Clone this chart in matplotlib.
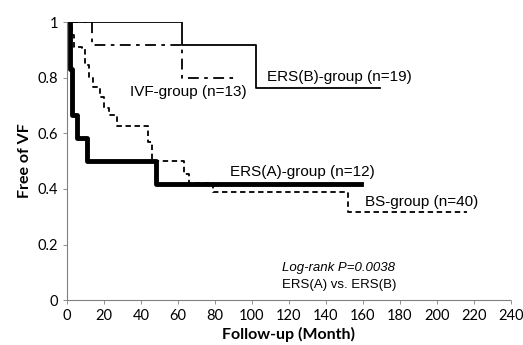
import matplotlib.pyplot as plt
from matplotlib.ticker import FuncFormatter

# step curves: event times (months) and survival after each time, last point = end of follow-up
ersb_t = [0, 62, 102, 169]
ersb_s = [1.0, 0.917, 0.763, 0.763]

ivf_t = [0, 13.5, 62, 91]
ivf_s = [1.0, 0.917, 0.80, 0.80]

ersa_t = [0, 1.5, 3, 5.5, 11, 48, 159]
ersa_s = [1.0, 0.833, 0.667, 0.583, 0.50, 0.417, 0.417]

bs_t = [0, 2.5, 4, 8, 10, 12, 14, 18, 20, 23, 27, 44, 46, 63, 66, 79, 152, 216]
bs_s = [1.0, 0.953, 0.91, 0.906, 0.845, 0.80, 0.766, 0.73, 0.69, 0.665, 0.625, 0.57, 0.50, 0.455, 0.42, 0.39, 0.317, 0.317]

labels = ["ERS(B)-group (n=19)", "IVF-group (n=13)", "ERS(A)-group (n=12)", "BS-group (n=40)"]
label_xy = [(108, 0.804), (34, 0.748), (88, 0.46), (161, 0.352)]

fig = plt.figure(figsize=(5.23, 3.45), dpi=100)
ax = fig.add_axes([0.128, 0.13, 0.849, 0.806])

ax.step(ersb_t, ersb_s, where="post", color="black", lw=1.3)
ax.step(ivf_t, ivf_s, where="post", color="black", lw=1.3, linestyle=(0, (6, 3, 2, 3)))
ax.step(bs_t, bs_s, where="post", color="black", lw=1.3, linestyle=(0, (3, 2)))
ax.step(ersa_t, ersa_s, where="post", color="black", lw=3.5)

for txt, (x, y) in zip(labels, label_xy):
    ax.text(x, y, txt, fontsize=11, family="Liberation Sans", va="center")

ax.text(147, 0.115, "Log-rank P=0.0038", fontsize=9.5, family="Liberation Sans",
        style="italic", ha="center", va="center")
ax.text(147, 0.055, "ERS(A) vs. ERS(B)", fontsize=9.5, family="Liberation Sans",
        ha="center", va="center")

ax.set_xlim(0, 240)
ax.set_ylim(0, 1.0)
ax.set_xticks(range(0, 241, 20))
ax.set_yticks([0, 0.2, 0.4, 0.6, 0.8, 1.0])
ax.yaxis.set_major_formatter(FuncFormatter(lambda v, p: "%g" % v))
ax.tick_params(labelsize=10.5, length=3, color="gray", width=0.6)
for lab in ax.get_xticklabels() + ax.get_yticklabels():
    lab.set_family("Lato")

ax.spines["top"].set_visible(False)
ax.spines["right"].set_visible(False)
ax.spines["left"].set_color("gray")
ax.spines["bottom"].set_color("gray")
ax.spines["left"].set_linestyle((0, (1, 1)))
ax.spines["bottom"].set_linestyle((0, (1, 1)))
ax.spines["left"].set_linewidth(0.8)
ax.spines["bottom"].set_linewidth(0.8)

ax.set_xlabel("Follow-up (Month)", fontsize=11.5, fontweight="bold", family="Lato", labelpad=3)
ax.set_ylabel("Free of VF", fontsize=11.5, fontweight="bold", family="Lato", labelpad=4)

fig.savefig("out.png", dpi=100)
